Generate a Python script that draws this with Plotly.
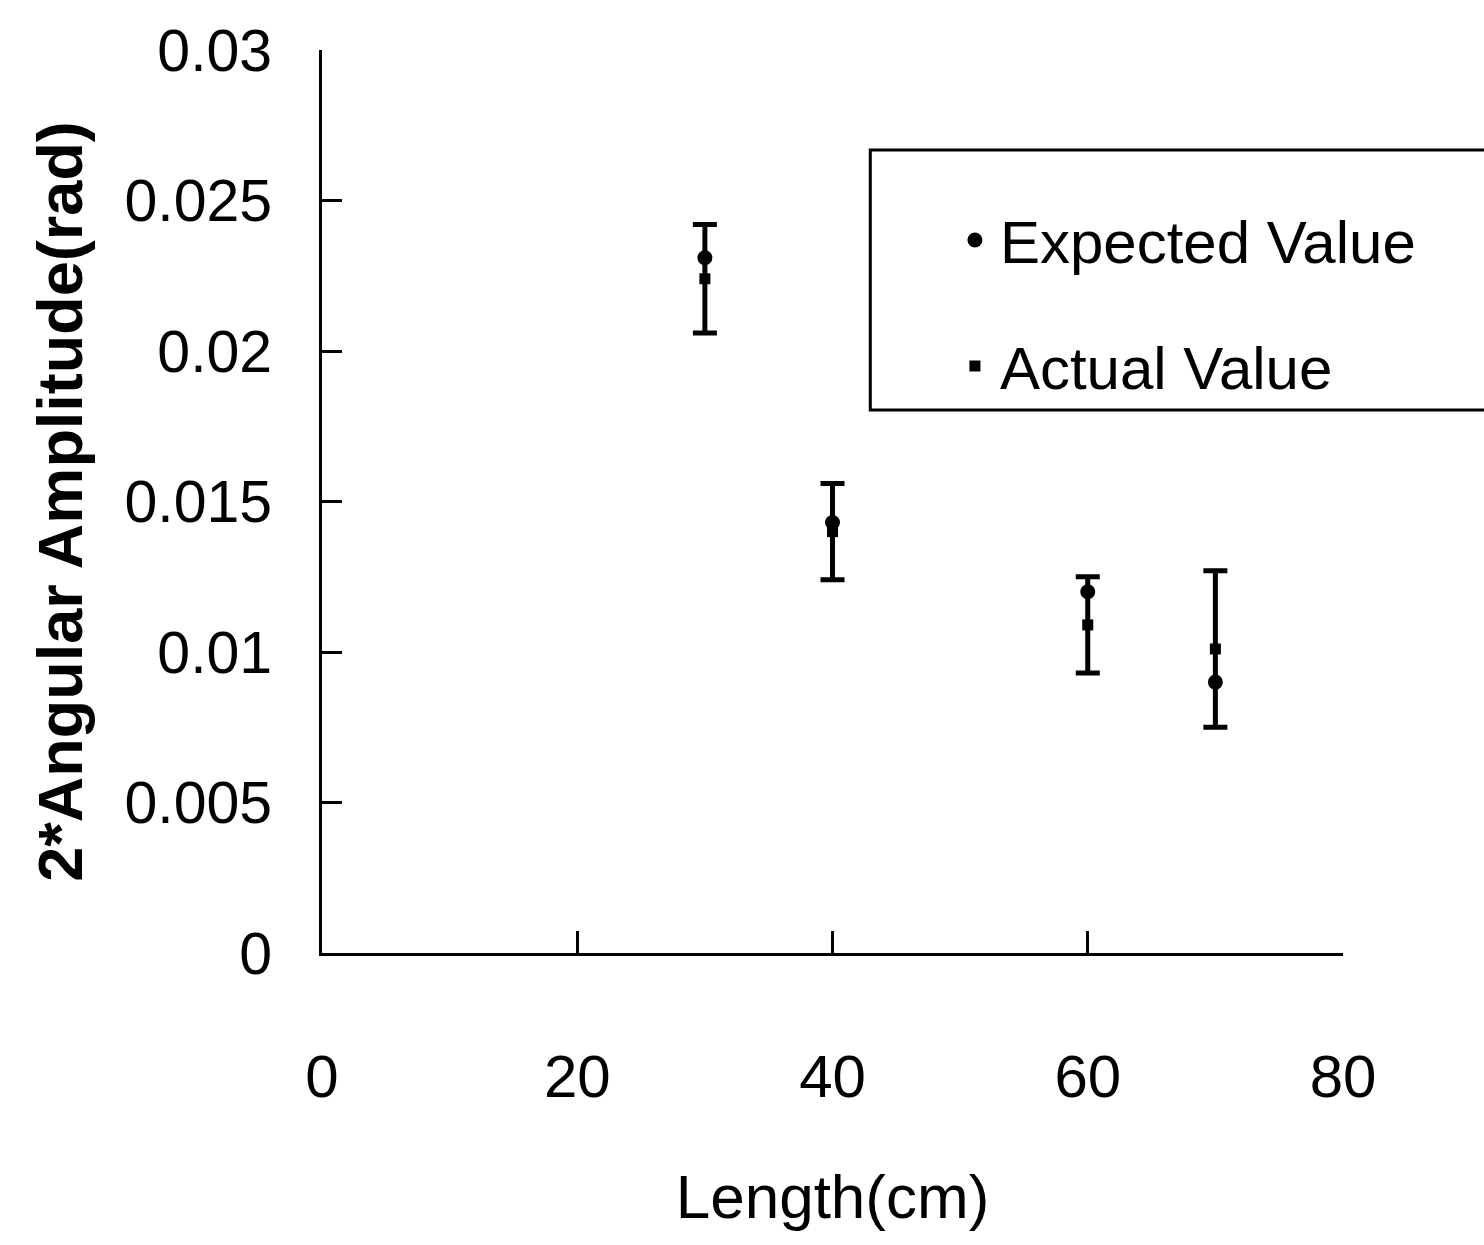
import plotly.graph_objects as go

lengths = [30, 40, 60, 70]
expected_values = [0.0231, 0.0143, 0.0120, 0.0090]
actual_values = [0.0224, 0.0140, 0.0109, 0.0101]
actual_errors = [0.0018, 0.0016, 0.0016, 0.0026]

x_ticks = [0, 20, 40, 60, 80]
y_ticks = [0, 0.005, 0.01, 0.015, 0.02, 0.025, 0.03]
y_tick_labels = ["0", "0.005", "0.01", "0.015", "0.02", "0.025", "0.03"]

FONT = "Liberation Sans, Arial, sans-serif"

fig = go.Figure()
fig.add_trace(go.Scatter(
    x=lengths, y=expected_values, mode="markers", name="Expected Value",
    legendgroup="a",
    marker=dict(symbol="circle", size=15, color="black"),
))
fig.add_trace(go.Scatter(
    x=lengths, y=actual_values, mode="markers", name="Actual Value",
    legendgroup="b",
    marker=dict(symbol="square", size=11, color="black"),
    error_y=dict(type="data", array=actual_errors, visible=True,
                 color="black", thickness=5, width=12),
))

fig.update_layout(
    width=1484, height=1245,
    margin=dict(l=322, r=141, t=50, b=292),
    paper_bgcolor="white", plot_bgcolor="white",
    font=dict(family=FONT, size=60, color="black"),
    showlegend=True,
    legend=dict(
        x=0.615, y=0.84, xanchor="left", yanchor="top",
        bgcolor="rgba(0,0,0,0)", borderwidth=0,
        font=dict(size=60, family=FONT),
        tracegroupgap=45, traceorder="grouped",
        itemsizing="trace", itemwidth=40,
    ),
    shapes=[dict(type="rect", xref="paper", yref="paper",
                 x0=0.537, x1=1.2, y0=(953 - 410) / 903, y1=(953 - 150) / 903,
                 line=dict(color="black", width=3), fillcolor="rgba(0,0,0,0)")],
)

fig.update_xaxes(
    range=[0, 80], tickvals=x_ticks, ticks="inside", ticklen=22, tickwidth=3,
    tickcolor="black", showline=True, linecolor="black", linewidth=3,
    showgrid=False, zeroline=False, ticklabelstandoff=69,
    tickfont=dict(size=60, family=FONT),
    title=dict(text="Length(cm)", font=dict(size=62, family=FONT), standoff=66),
)
fig.update_yaxes(
    range=[0, 0.03], tickvals=y_ticks, ticktext=y_tick_labels, ticks="inside",
    ticklen=20, tickwidth=3, tickcolor="black", showline=True,
    linecolor="black", linewidth=3, showgrid=False, zeroline=False,
    ticklabelstandoff=35,
    tickfont=dict(size=59, family=FONT),
    title=dict(text="<b>2*Angular Amplitude(rad)</b>", font=dict(size=63, family=FONT), standoff=22),
)

fig.write_html("out.html")
